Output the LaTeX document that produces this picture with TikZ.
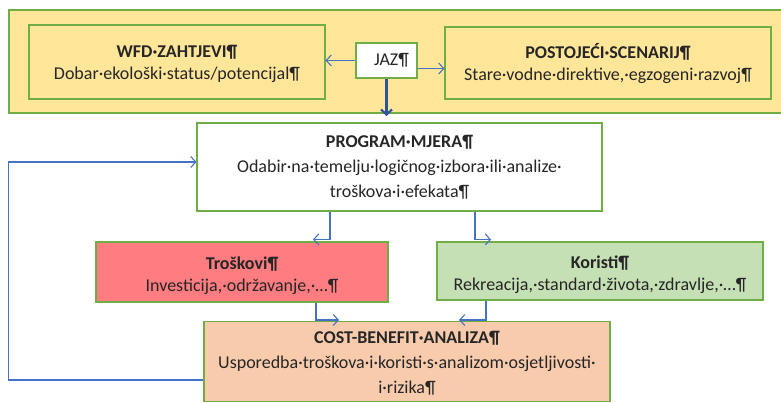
\documentclass[tikz,border=0pt]{standalone}
\usepackage{fontspec}
\setmainfont{Carlito}
\usetikzlibrary{arrows.meta}
\definecolor{zuta}{HTML}{FFE699}
\definecolor{rub}{HTML}{70AD47}
\definecolor{plava}{HTML}{4472C4}
\definecolor{tplava}{HTML}{2F5597}
\definecolor{crvena}{HTML}{FF7C80}
\definecolor{zelena}{HTML}{C5E0B4}
\definecolor{breskva}{HTML}{F8CBAD}
\definecolor{tekst}{HTML}{262626}
\newcommand{\nize}[1]{\rule{0pt}{#1}}

\begin{document}
\begin{tikzpicture}[x=1pt,y=-1pt,
   kut/.style={draw=rub,line width=1.1pt,align=center,inner sep=0pt,text=tekst,
      font=\fontsize{18}{22}\selectfont},
   veza/.style={draw=plava,line width=1.1pt,-{Straight Barb[length=5pt,width=11pt]}}]
         \useasboundingbox (0,0) rectangle (781,403) ;
         %\draw[very thin,gray,step=20] (0,0) grid (781,403) ;
         \fill[zuta] (9,10) rectangle (790,113) ;
         \draw[rub,line width=1.1pt] (790,10) -- (9,10) -- (9,113) -- (790,113) ;
         \node[kut,minimum width=296,minimum height=74] (wfd) at (177,62)
            {\nize{17pt}\textbf{WFD·ZAHTJEVI¶}\\Dobar·ekološki·status/potencijal¶} ;
         \node[kut,fill=white,minimum width=61,minimum height=35] (jaz) at (386.5,60.5)
            {\hspace*{10pt}JAZ¶} ;
         \node[kut,minimum width=326,minimum height=72] (post) at (608,63)
            {\nize{17pt}\textbf{POSTOJEĆI·SCENARIJ¶}\\Stare·vodne·direktive,·egzogeni·razvoj¶} ;
         \node[kut,fill=white,minimum width=405,minimum height=88,
            font=\fontsize{18}{25}\selectfont] (prog) at (399.5,167)
            {\textbf{PROGRAM·MJERA¶}\\Odabir·na·temelju·logičnog·izbora·ili·analize·\\troškova·i·efekata¶} ;
         \node[kut,fill=crvena,minimum width=292,minimum height=60] (tros) at (242,272)
            {\nize{20pt}\textbf{Troškovi¶}\\Investicija,·održavanje,·…¶} ;
         \node[kut,fill=zelena,minimum width=326,minimum height=58] (kor) at (600,271)
            {\nize{20pt}\textbf{Koristi¶}\\Rekreacija,·standard·života,·zdravlje,·…¶} ;
         \node[kut,fill=breskva,minimum width=406,minimum height=80,anchor=north,
            font=\fontsize{18}{25}\selectfont] (cba) at (407,321)
            {\nize{15pt}\textbf{COST-BENEFIT·ANALIZA¶}\\Usporedba·troškova·i·koristi·s·analizom·osjetljivosti·\\i·rizika¶} ;
         \coordinate (jazdolje) at (386.5,116) ;
         % strelice
         \draw[veza] (jaz.west) -- (jaz.west -| wfd.east) ;
         \draw[veza] ([yshift=-8pt]jaz.east) -- ([yshift=-8pt]jaz.east -| post.west) ;
         \draw[veza,draw=tplava,line width=2.2pt] (jaz.south) -- (jazdolje) ;
         \draw[veza] ([xshift=-69.5pt]prog.south) |- ([xshift=71pt,yshift=2pt]tros.north) ;
         \draw[veza] ([xshift=75.5pt]prog.south) |- ([xshift=-109pt,yshift=2pt]kor.north) ;
         \draw[veza] ([xshift=74pt]tros.south) |- ([xshift=-68pt,yshift=1pt]cba.north) ;
         \draw[veza] ([xshift=-114pt]kor.south) |- ([xshift=52pt,yshift=1pt]cba.north) ;
         \draw[veza] ([yshift=-59pt]cba.north west) -- ++(-195,0) |- ([yshift=5pt]prog.west) ;
      \end{tikzpicture}
\end{document}
